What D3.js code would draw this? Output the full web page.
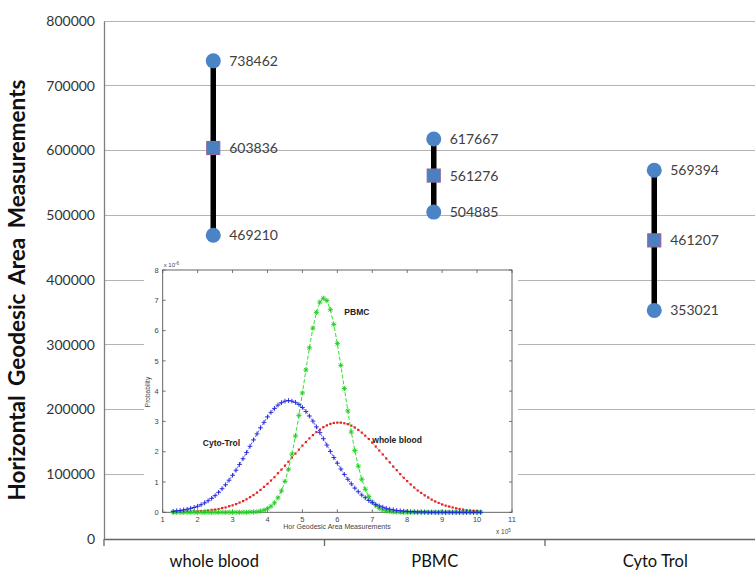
<!DOCTYPE html>
<html><head><meta charset="utf-8">
<script src="https://cdn.jsdelivr.net/npm/d3@7"></script>
<style>body{margin:0;background:#fff;overflow:hidden}</style>
</head><body>
<svg id="c" width="755" height="571"></svg>
<script>
// ---- main chart data ----
const categories = ["whole blood", "PBMC", "Cyto Trol"];
const highValues = [738462, 617667, 569394];
const meanValues = [603836, 561276, 461207];
const lowValues  = [469210, 504885, 353021];
const yTicks = [0,100000,200000,300000,400000,500000,600000,700000,800000];

// ---- inset (probability distributions) data, x in units of 1e5, y in units of 1e-6 ----
const insetX = [
 1.3,1.4,1.5,1.6,1.7,1.8,1.9,2.0,2.1,2.2,
 2.3,2.4,2.5,2.6,2.7,2.8,2.9,3.0,3.1,3.2,
 3.3,3.4,3.5,3.6,3.7,3.8,3.9,4.0,4.1,4.2,
 4.3,4.4,4.5,4.6,4.7,4.8,4.9,5.0,5.1,5.2,
 5.3,5.4,5.5,5.6,5.7,5.8,5.9,6.0,6.1,6.2,
 6.3,6.4,6.5,6.6,6.7,6.8,6.9,7.0,7.1,7.2,
 7.3,7.4,7.5,7.6,7.7,7.8,7.9,8.0,8.1,8.2,
 8.3,8.4,8.5,8.6,8.7,8.8,8.9,9.0,9.1,9.2,
 9.3,9.4,9.5,9.6,9.7,9.8,9.9,10.0,10.1];
const wholeBlood = [
 0.01,0.01,0.01,0.01,0.02,0.02,0.03,0.03,0.04,0.05,
 0.06,0.08,0.09,0.11,0.14,0.16,0.20,0.23,0.27,0.32,
 0.37,0.43,0.50,0.57,0.65,0.74,0.84,0.94,1.05,1.16,
 1.29,1.41,1.54,1.67,1.81,1.94,2.07,2.20,2.32,2.44,
 2.55,2.65,2.73,2.81,2.87,2.92,2.95,2.96,2.96,2.94,
 2.91,2.86,2.80,2.72,2.63,2.53,2.42,2.30,2.17,2.04,
 1.91,1.78,1.65,1.51,1.39,1.26,1.14,1.03,0.92,0.82,
 0.72,0.64,0.56,0.49,0.42,0.36,0.31,0.26,0.22,0.19,
 0.16,0.13,0.11,0.09,0.07,0.06,0.05,0.04,0.03];
const pbmc = [
 0,0,0,0,0,0,0,0,0,0,
 0,0,0,0,0,0,0,0,0,0,
 0,0,0.01,0.01,0.02,0.04,0.07,0.12,0.20,0.31,
 0.48,0.71,1.02,1.42,1.92,2.52,3.20,3.94,4.70,5.43,
 6.08,6.60,6.94,7.07,6.99,6.69,6.20,5.57,4.85,4.09,
 3.35,2.65,2.04,1.52,1.09,0.76,0.52,0.34,0.22,0.13,
 0.08,0.05,0.03,0.01,0.01,0,0,0,0,0,
 0,0,0,0,0,0,0,0,0,0,
 0,0,0,0,0,0,0,0,0];
const cytoTrol = [
 0.03,0.05,0.06,0.08,0.10,0.13,0.16,0.20,0.25,0.31,
 0.38,0.46,0.55,0.66,0.78,0.91,1.06,1.22,1.39,1.58,
 1.77,1.97,2.18,2.39,2.59,2.79,2.97,3.15,3.30,3.43,
 3.54,3.62,3.67,3.69,3.67,3.63,3.56,3.46,3.33,3.18,
 3.01,2.82,2.63,2.43,2.22,2.01,1.81,1.62,1.43,1.25,
 1.09,0.94,0.80,0.68,0.57,0.48,0.39,0.32,0.26,0.21,
 0.17,0.13,0.10,0.08,0.06,0.05,0.04,0.03,0.02,0.02,
 0.01,0.01,0.01,0,0,0,0,0,0,0,
 0,0,0,0,0,0,0,0,0];
const insetXTicks = [1,2,3,4,5,6,7,8,9,10,11];
const insetYTicks = [0,1,2,3,4,5,6,7,8];

const svg = d3.select("#c");
const FONT = "Lato, 'Open Sans', sans-serif";

// ---- main scales ----
const x = d3.scaleBand().domain(categories).range([104, 765.5]).padding(0);
const y = d3.scaleLinear().domain([0, 800000]).range([539, 21]);

// gridlines
svg.append("g").selectAll("line").data(yTicks.filter(d => d > 0)).join("line")
  .attr("x1", 104).attr("x2", 766).attr("y1", d => y(d)).attr("y2", d => y(d))
  .attr("stroke", "#b3b3b3").attr("stroke-width", 1).attr("shape-rendering","crispEdges");

// y axis
const yAxis = svg.append("g").attr("transform", "translate(104,0)")
  .call(d3.axisLeft(y).tickValues(yTicks).tickSize(0).tickPadding(9).tickFormat(d3.format("d")));
yAxis.select(".domain").attr("stroke", "#7f7f7f").attr("stroke-width", 1.3);
yAxis.selectAll("text").attr("font-family", FONT).attr("font-size", 14).attr("fill", "#333");

// x axis
const xAxis = svg.append("g").attr("transform", "translate(0,539)")
  .call(d3.axisBottom(x).tickSize(0).tickPadding(0));
xAxis.select(".domain").attr("stroke", "#666").attr("stroke-width", 1.3);
xAxis.selectAll("text").attr("font-family", FONT).attr("font-size", 16.5).attr("fill", "#111")
  .attr("dy", 0).attr("y", 28);
// category boundary ticks
svg.append("g").selectAll("line").data(categories).join("line")
  .attr("x1", d => x(d)).attr("x2", d => x(d)).attr("y1", 539).attr("y2", 546)
  .attr("stroke", "#666").attr("stroke-width", 1.3);

// y title
svg.append("text").attr("transform", "translate(25,290) rotate(-90)")
  .attr("text-anchor", "middle").attr("font-family", FONT).attr("font-weight", "bold")
  .attr("font-size", 22.5).attr("fill", "#111").attr("word-spacing", 4)
  .text("Horizontal Geodesic Area Measurements");

// ---- hi-low series ----
const rows = categories.map((c, i) => ({c, hi: highValues[i], mean: meanValues[i], lo: lowValues[i]}));
const cx = d => x(d.c) + x.bandwidth() / 2 - 1;
svg.append("g").selectAll("line").data(rows).join("line")
  .attr("x1", cx).attr("x2", cx).attr("y1", d => y(d.hi)).attr("y2", d => y(d.lo))
  .attr("stroke", "#000").attr("stroke-width", 5.5);
const pts = rows.flatMap(d => [{d, v: d.hi, t: "c"}, {d, v: d.lo, t: "c"}, {d, v: d.mean, t: "s"}]);
svg.append("g").selectAll("circle").data(pts.filter(p => p.t === "c")).join("circle")
  .attr("cx", p => cx(p.d)).attr("cy", p => y(p.v)).attr("r", 7.5).attr("fill", "#4a83c6");
svg.append("g").selectAll("rect").data(pts.filter(p => p.t === "s")).join("rect")
  .attr("x", p => cx(p.d) - 6.5).attr("y", p => y(p.v) - 6.5).attr("width", 13).attr("height", 13)
  .attr("fill", "#4a7fc0").attr("stroke", "#8a6aa0").attr("stroke-width", 1.2);
svg.append("g").selectAll("text").data(pts).join("text")
  .attr("x", p => cx(p.d) + 16).attr("y", p => y(p.v)).attr("dy", "0.36em")
  .attr("font-family", FONT).attr("font-size", 14).attr("fill", "#404040")
  .text(p => p.v);

// ---- inset figure ----
const inset = svg.append("g");
inset.append("rect").attr("x", 144).attr("y", 261).attr("width", 374).attr("height", 277).attr("fill", "#fff");
const ix = d3.scaleLinear().domain([1, 11]).range([162.7, 512]);
const iy = d3.scaleLinear().domain([0, 8]).range([512.3, 270]);
const IF = "'Liberation Sans', Arial, sans-serif";
const boxC = "#555";
inset.append("rect").attr("x", ix(1)).attr("y", iy(8)).attr("width", ix(11) - ix(1)).attr("height", iy(0) - iy(8))
  .attr("fill", "none").attr("stroke", boxC).attr("stroke-width", 0.9);
// ticks inward
inset.append("g").selectAll("path").data(insetXTicks).join("path")
  .attr("d", d => `M${ix(d)},${iy(0)}v-3M${ix(d)},${iy(8)}v3`).attr("stroke", boxC).attr("stroke-width", 0.8);
inset.append("g").selectAll("path").data(insetYTicks).join("path")
  .attr("d", d => `M${ix(1)},${iy(d)}h3M${ix(11)},${iy(d)}h-3`).attr("stroke", boxC).attr("stroke-width", 0.8);
inset.append("g").selectAll("text").data(insetXTicks).join("text")
  .attr("x", d => ix(d)).attr("y", iy(0) + 10).attr("text-anchor", "middle")
  .attr("font-family", IF).attr("font-size", 7.5).attr("fill", "#444").text(d => d);
inset.append("g").selectAll("text").data(insetYTicks).join("text")
  .attr("x", ix(1) - 4).attr("y", d => iy(d) + 2.7).attr("text-anchor", "end")
  .attr("font-family", IF).attr("font-size", 7.5).attr("fill", "#444").text(d => d);
inset.append("text").attr("x", ix(1) + 1).attr("y", iy(8) - 3).attr("font-family", IF).attr("font-size", 6).attr("fill", "#444")
  .html('x 10<tspan dy="-2.5" font-size="4.5">-6</tspan>');
inset.append("text").attr("x", 496).attr("y", 534).attr("font-family", IF).attr("font-size", 6.5).attr("fill", "#444")
  .html('x 10<tspan dy="-2.5" font-size="4.5">5</tspan>');
inset.append("text").attr("x", 337).attr("y", 529).attr("text-anchor", "middle")
  .attr("font-family", IF).attr("font-size", 7).attr("fill", "#444").text("Hor Geodesic Area Measurements");
inset.append("text").attr("transform", "translate(150,392) rotate(-90)").attr("text-anchor", "middle")
  .attr("font-family", IF).attr("font-size", 6.5).attr("fill", "#444").text("Probability");

const line = d3.line().x((d, i) => ix(insetX[i])).y(d => iy(d));
// whole blood: red dotted with point markers
inset.append("path").attr("d", line(wholeBlood)).attr("fill", "none").attr("stroke", "#f03030")
  .attr("stroke-width", 0.8).attr("stroke-dasharray", "1,1.5");
inset.append("g").selectAll("rect").data(wholeBlood).join("rect")
  .attr("x", (d, i) => ix(insetX[i]) - 1.1).attr("y", d => iy(d) - 1.1).attr("width", 2.2).attr("height", 2.2)
  .attr("fill", "#e02222");
// PBMC: green dashed with star markers
inset.append("path").attr("d", line(pbmc)).attr("fill", "none").attr("stroke", "#33e033")
  .attr("stroke-width", 1).attr("stroke-dasharray", "4,2");
inset.append("g").selectAll("path").data(pbmc).join("path")
  .attr("d", (d, i) => { const px = ix(insetX[i]), py = iy(d), s = 2.6, t = 1.9;
    return `M${px-s},${py}h${2*s}M${px},${py-s}v${2*s}M${px-t},${py-t}l${2*t},${2*t}M${px-t},${py+t}l${2*t},${-2*t}`; })
  .attr("stroke", "#22cc22").attr("stroke-width", 0.9).attr("fill", "none");
// Cyto-Trol: blue with plus markers
inset.append("path").attr("d", line(cytoTrol)).attr("fill", "none").attr("stroke", "#3a3aff")
  .attr("stroke-width", 0.8).attr("stroke-dasharray", "3,1.5");
inset.append("g").selectAll("path").data(cytoTrol).join("path")
  .attr("d", (d, i) => { const px = ix(insetX[i]), py = iy(d), s = 2.4;
    return `M${px-s},${py}h${2*s}M${px},${py-s}v${2*s}`; })
  .attr("stroke", "#1f1fdd").attr("stroke-width", 0.9).attr("fill", "none");

// annotations
const ann = [{t: "PBMC", x: 6.2, y: 6.52}, {t: "Cyto-Trol", x: 2.15, y: 2.2}, {t: "whole blood", x: 7.0, y: 2.3}];
inset.append("g").selectAll("text").data(ann).join("text")
  .attr("x", d => ix(d.x)).attr("y", d => iy(d.y)).attr("font-family", IF).attr("font-weight", "bold")
  .attr("font-size", 8.5).attr("fill", "#222").text(d => d.t);
</script>
</body></html>
